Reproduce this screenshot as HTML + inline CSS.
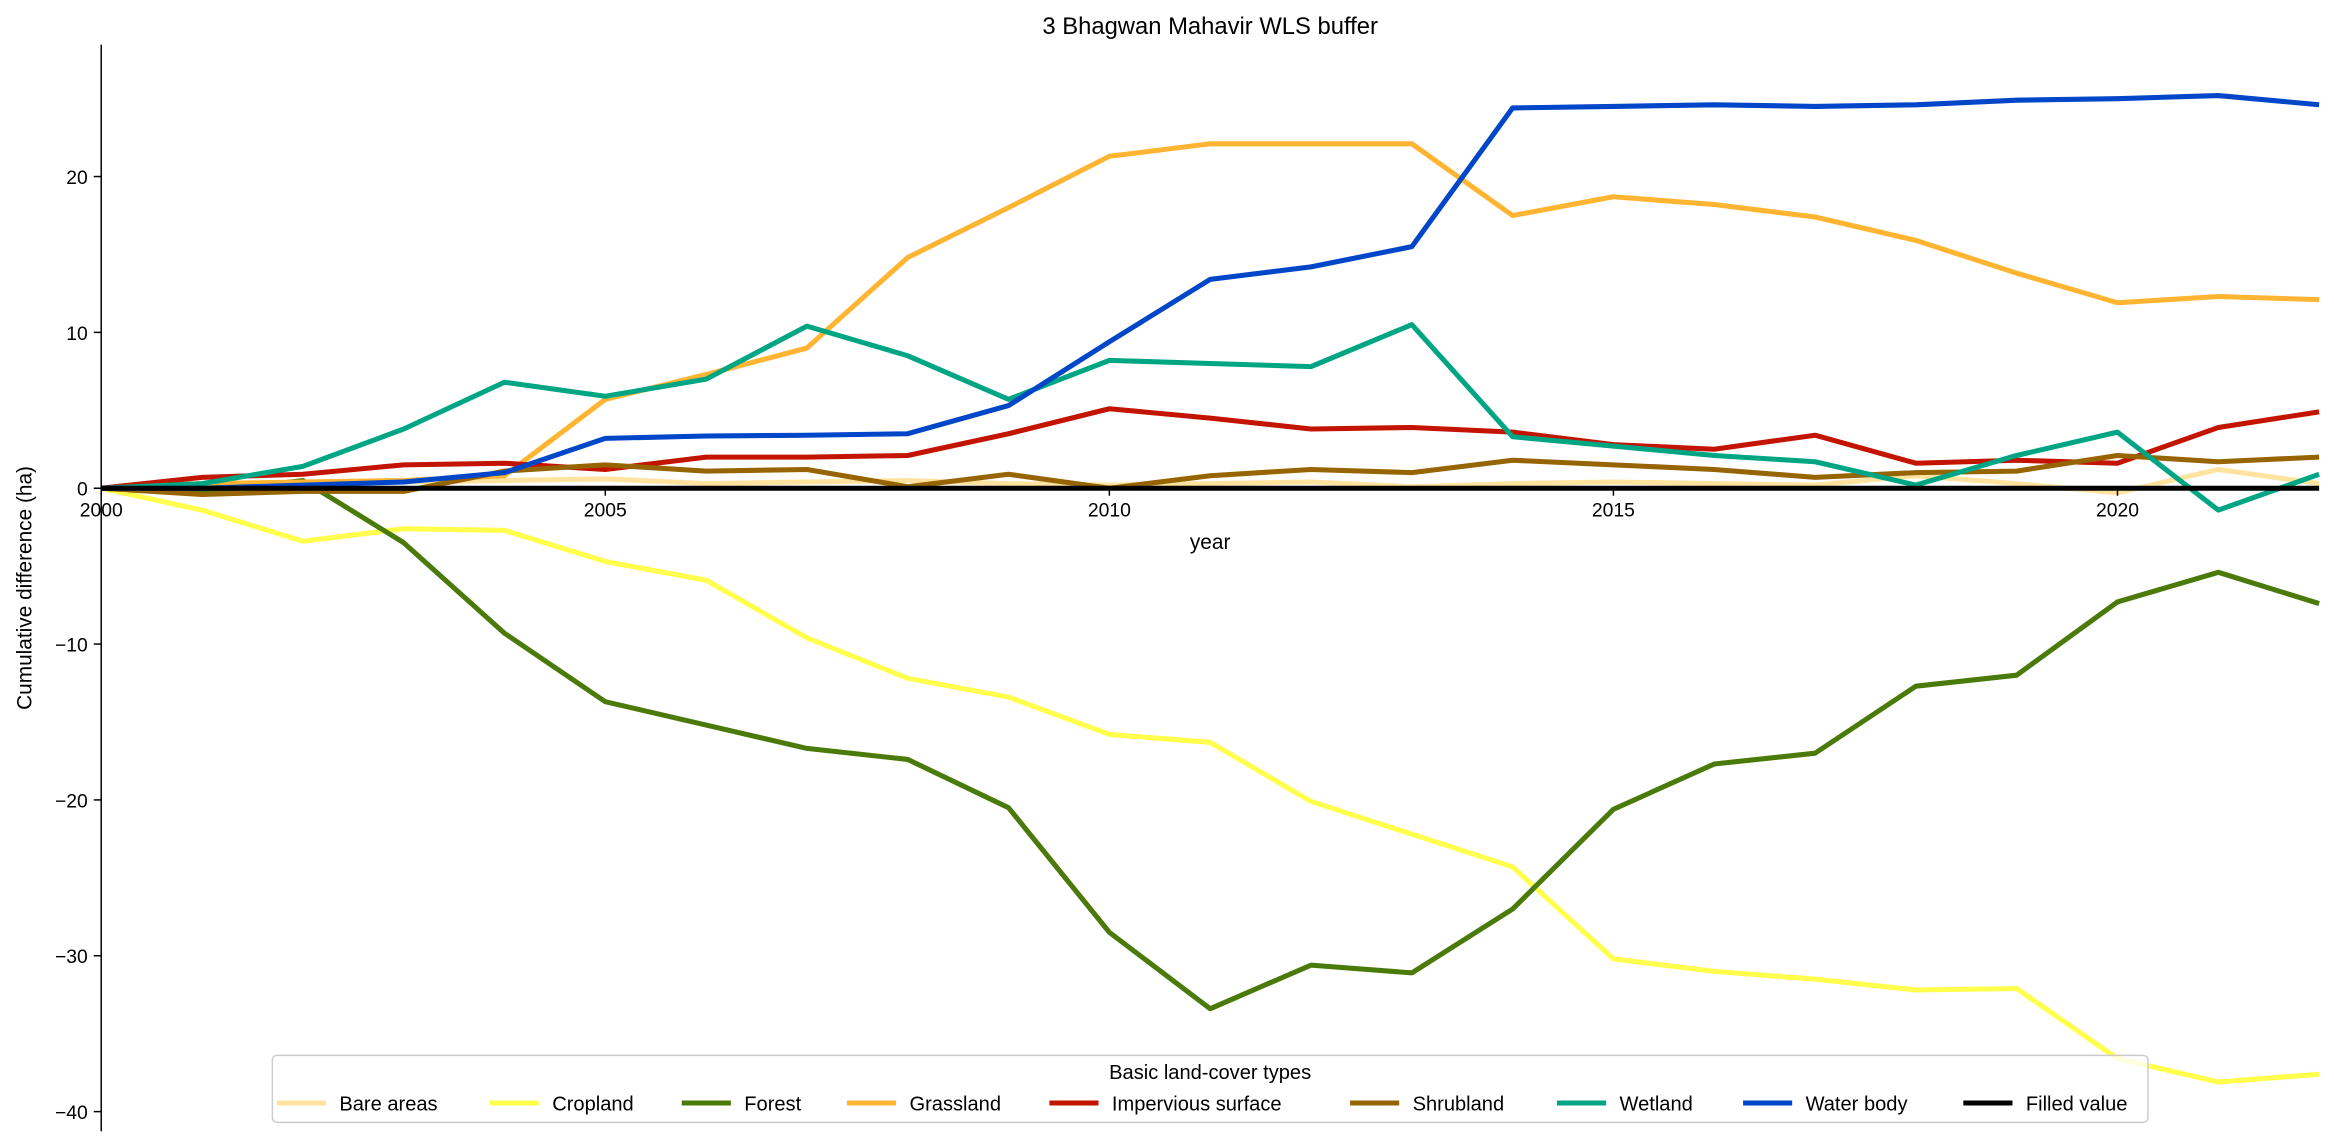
<!DOCTYPE html>
<html><head><meta charset="utf-8"><style>
body{margin:0;background:#fff;}
svg{display:block;}
svg text{font-family:"Liberation Sans","DejaVu Sans",sans-serif;fill:#000;}
</style></head><body>
<svg id="chart" width="2334" height="1148" viewBox="0 0 1568 771.25" preserveAspectRatio="none" xmlns="http://www.w3.org/2000/svg">
<rect width="1568" height="771.25" fill="#fff"/>
<text x="813" y="23" font-size="16" text-anchor="middle">3 Bhagwan Mahavir WLS buffer</text>
<g id="grid"></g>
<g id="series"></g>
<g id="axes"></g>
<text x="813" y="369" font-size="14" text-anchor="middle">year</text>
<text transform="translate(21,395) rotate(-90)" font-size="14" text-anchor="middle">Cumulative difference (ha)</text>
<g id="legend"></g>
</svg>
<script>
const years=[2000,2001,2002,2003,2004,2005,2006,2007,2008,2009,2010,2011,2012,2013,2014,2015,2016,2017,2018,2019,2020,2021,2022];
const seriesNames=["Bare areas","Cropland","Forest","Grassland","Impervious surface","Shrubland","Wetland","Water body","Filled value"];
const bareAreas=[0,0.1,0.3,0.4,0.5,0.6,0.3,0.4,0.5,0.3,0.2,0.3,0.4,0.1,0.3,0.4,0.3,0.2,0.8,0.3,-0.3,1.2,0.3];
const cropland=[0,-1.4,-3.4,-2.6,-2.7,-4.7,-5.9,-9.6,-12.2,-13.4,-15.8,-16.3,-20.1,-22.2,-24.3,-30.2,-31.0,-31.5,-32.2,-32.1,-36.6,-38.1,-37.6];
const forest=[0,-0.3,0.5,-3.5,-9.3,-13.7,-15.2,-16.7,-17.4,-20.5,-28.5,-33.4,-30.6,-31.1,-27.0,-20.6,-17.7,-17.0,-12.7,-12.0,-7.3,-5.4,-7.4];
const grassland=[0,0.3,0.4,0.5,0.8,5.7,7.3,9.0,14.8,18.0,21.3,22.1,22.1,22.1,17.5,18.7,18.2,17.4,15.9,13.8,11.9,12.3,12.1];
const impervious=[0,0.7,0.9,1.5,1.6,1.2,2.0,2.0,2.1,3.5,5.1,4.5,3.8,3.9,3.6,2.8,2.5,3.4,1.6,1.8,1.6,3.9,4.9];
const shrubland=[0,-0.4,-0.2,-0.2,1.1,1.5,1.1,1.2,0.1,0.9,0,0.8,1.2,1.0,1.8,1.5,1.2,0.7,1.0,1.1,2.1,1.7,2.0];
const wetland=[0,0.3,1.4,3.8,6.8,5.9,7.0,10.4,8.5,5.7,8.2,8.0,7.8,10.5,3.3,2.7,2.1,1.7,0.2,2.1,3.6,-1.4,0.9];
const waterBody=[0,0,0.2,0.4,1.0,3.2,3.35,3.4,3.5,5.3,9.4,13.4,14.2,15.5,24.4,24.5,24.6,24.5,24.6,24.9,25.0,25.2,24.6];
const filledValue=[0,0,0,0,0,0,0,0,0,0,0,0,0,0,0,0,0,0,0,0,0,0,0];
const xTicks=[2000,2005,2010,2015,2020];
const yTicks=[20,10,0,-10,-20,-30,-40];

const colors=["#ffe39e","#ffff4c","#4a7a0a","#ffb432","#c31400","#966400","#00a684","#0046c8","#000000"];
const allData=[bareAreas,cropland,forest,grassland,impervious,shrubland,wetland,waterBody,filledValue];
const X=v=>68+(v-2000)*(1490/22);
const Y=v=>328-v*10.47;
const NS="http://www.w3.org/2000/svg";
function mk(tag,attrs,parent){const e=document.createElementNS(NS,tag);for(const k in attrs)e.setAttribute(k,attrs[k]);parent.appendChild(e);return e;}
const axes=document.getElementById('axes');
const sg=document.getElementById('series');
allData.forEach((d,i)=>{
  const pts=d.map((v,j)=>X(years[j]).toFixed(1)+","+Y(v).toFixed(1)).join(" ");
  const p=mk('polyline',{points:pts,fill:"none",stroke:colors[i],"stroke-width":3.4,"stroke-linejoin":"round"},sg);
  
  
});
const ys=mk('line',{x1:68,y1:30,x2:68,y2:760,stroke:"#000","stroke-width":1},axes);


const xs=mk('line',{x1:68,y1:328,x2:1558,y2:328,stroke:"#000","stroke-width":1},axes);


xTicks.forEach(t=>{
  mk('line',{x1:X(t),y1:328,x2:X(t),y2:333,stroke:"#000","stroke-width":1},axes);
  const tx=mk('text',{x:X(t),y:347,"font-size":13,"text-anchor":"middle"},axes);
  tx.textContent=t;
  
  
});
yTicks.forEach(t=>{
  mk('line',{x1:63,y1:Y(t),x2:68,y2:Y(t),stroke:"#000","stroke-width":1},axes);
  const tx=mk('text',{x:59,y:Y(t)+5,"font-size":13,"text-anchor":"end"},axes);
  tx.textContent=(t<0?"\u2212"+(-t):t);
  
  
});
const lg=document.getElementById('legend');
mk('rect',{x:183,y:709,width:1260,height:45,fill:"#fff","fill-opacity":0.8,stroke:"#ccc",rx:3},lg);
const lt=mk('text',{x:813,y:725,"font-size":13.5,"text-anchor":"middle"},lg);
lt.textContent="Basic land-cover types";
const lx=[186,329,458,569,705,907,1046,1171,1319];
seriesNames.forEach((n,i)=>{
  const g=mk('g',{},lg);
  
  
  mk('line',{x1:lx[i],y1:741,x2:lx[i]+33,y2:741,stroke:colors[i],"stroke-width":3.4},g);
  const t=mk('text',{x:lx[i]+42,y:746,"font-size":13.5},g);
  t.textContent=n;
});
</script>
</body></html>
